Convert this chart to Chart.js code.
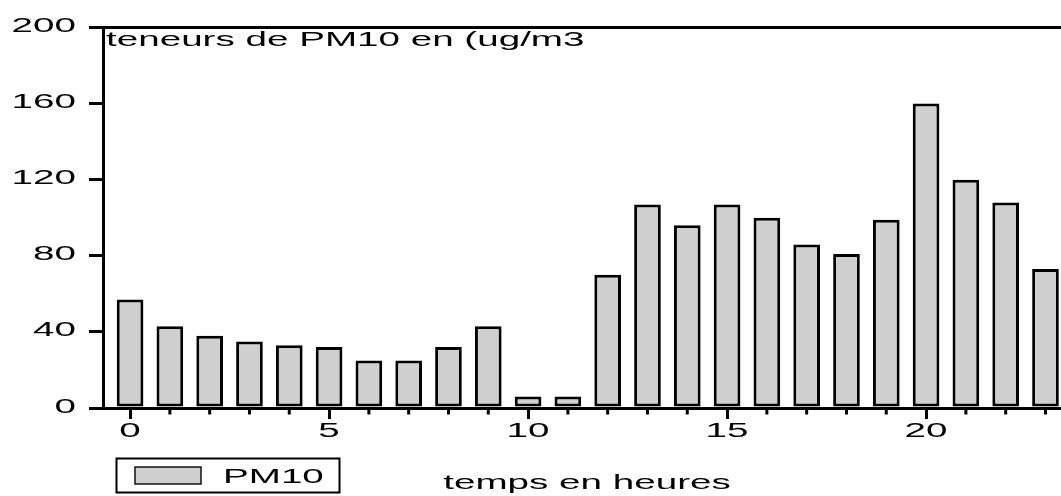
<!DOCTYPE html>
<html>
<head>
<meta charset="utf-8">
<script src="https://cdn.jsdelivr.net/npm/chart.js@4.4.1/dist/chart.umd.min.js"></script>
<style>
  html, body { margin: 0; padding: 0; background: #fff; }
  canvas { display: block; }
</style>
</head>
<body>
<canvas id="chart" width="1061" height="496"></canvas>
<script>
// hourly PM10 values
const hours = [0, 1, 2, 3, 4, 5, 6, 7, 8, 9, 10, 11, 12, 13, 14, 15, 16, 17, 18, 19, 20, 21, 22, 23];
const pm10 = [57, 43, 38, 35, 33, 32, 25, 25, 32, 43, 6, 6, 70, 107, 96, 107, 100, 86, 81, 99, 160, 120, 108, 73];
const yTickLabels = [0, 40, 80, 120, 160, 200];
const xTickLabels = [0, 5, 10, 15, 20];

const seriesName = 'PM10';
const chartTitle = 'teneurs de PM10 en (ug/m3';
const xTitle = 'temps en heures';

// the original text is drawn wide, so labels get a horizontal stretch
const STRETCH = 1.93;
const FONT = '20px "Liberation Sans", Arial, sans-serif';
const BAR_GREY = '#cfcfcf';

function wideText(ctx, text, x, y, align) {
  ctx.save();
  ctx.translate(x, y);
  ctx.scale(STRETCH, 1);
  ctx.textAlign = align;
  ctx.textBaseline = 'alphabetic';
  ctx.fillText(text, 0, 0);
  ctx.restore();
}

// draws the labels, top frame line, minor ticks and the legend box
const decorations = {
  id: 'decorations',
  afterDraw(chart) {
    const ctx = chart.ctx;
    const area = chart.chartArea;
    const xs = chart.scales.x;
    const ys = chart.scales.y;

    ctx.save();
    ctx.strokeStyle = '#000';
    ctx.lineWidth = 3;

    // top line at the 200 level
    const yTop = ys.getPixelForValue(200);
    ctx.beginPath();
    ctx.moveTo(area.left - 1.5, yTop);
    ctx.lineTo(area.right, yTop);
    ctx.stroke();

    // short minor ticks on every hour
    hours.forEach(h => {
      if (h % 5 === 0) return;
      const px = xs.getPixelForValue(h);
      ctx.beginPath();
      ctx.moveTo(px, area.bottom + 1.5);
      ctx.lineTo(px, area.bottom + 6.5);
      ctx.stroke();
    });

    ctx.fillStyle = '#000';
    ctx.font = FONT;

    yTickLabels.forEach(v => {
      wideText(ctx, String(v), 76, ys.getPixelForValue(v) + 4.5, 'right');
    });
    xTickLabels.forEach(v => {
      wideText(ctx, String(v), xs.getPixelForValue(v), 437, 'center');
    });

    wideText(ctx, chartTitle, area.left + 3, 46, 'left');
    wideText(ctx, xTitle, 587, 489, 'center');

    // legend
    ctx.lineWidth = 2;
    ctx.strokeRect(116.5, 458.5, 223, 34);
    ctx.fillStyle = BAR_GREY;
    ctx.fillRect(135, 467, 66, 17);
    ctx.lineWidth = 1.5;
    ctx.strokeStyle = '#111';
    ctx.strokeRect(135, 467, 66, 17);
    ctx.fillStyle = '#000';
    wideText(ctx, chart.data.datasets[0].label, 223, 483, 'left');

    ctx.restore();
  }
};

new Chart(document.getElementById('chart'), {
  type: 'bar',
  data: {
    datasets: [{
      label: seriesName,
      data: hours.map((h, i) => ({ x: h, y: pm10[i] })),
      backgroundColor: BAR_GREY,
      borderColor: '#000',
      borderWidth: 3,
      borderSkipped: false,
      barPercentage: 0.67,
      categoryPercentage: 1
    }]
  },
  options: {
    responsive: false,
    animation: false,
    devicePixelRatio: 1,
    layout: { padding: { top: 27.5, left: 0, right: 0, bottom: 0 } },
    plugins: {
      legend: { display: false },
      tooltip: { enabled: false }
    },
    scales: {
      x: {
        type: 'linear',
        offset: false,
        min: -0.68,
        max: 23.39,
        ticks: { display: false, stepSize: 1, includeBounds: false },
        grid: {
          offset: false,
          drawOnChartArea: false,
          drawTicks: true,
          tickLength: 11,
          lineWidth: 3,
          tickColor: ctx => (ctx.tick && ctx.tick.value % 5 === 0) ? '#000' : 'rgba(0,0,0,0)'
        },
        border: { color: '#000', width: 3 },
        afterFit: scale => { scale.height = 88; }
      },
      y: {
        min: 0,
        max: 200,
        ticks: { display: false, stepSize: 40 },
        grid: {
          drawOnChartArea: false,
          drawTicks: true,
          tickLength: 14,
          lineWidth: 3,
          tickColor: '#000'
        },
        border: { color: '#000', width: 3 },
        afterFit: scale => { scale.width = 103; }
      }
    }
  },
  plugins: [decorations]
});
</script>
</body>
</html>
